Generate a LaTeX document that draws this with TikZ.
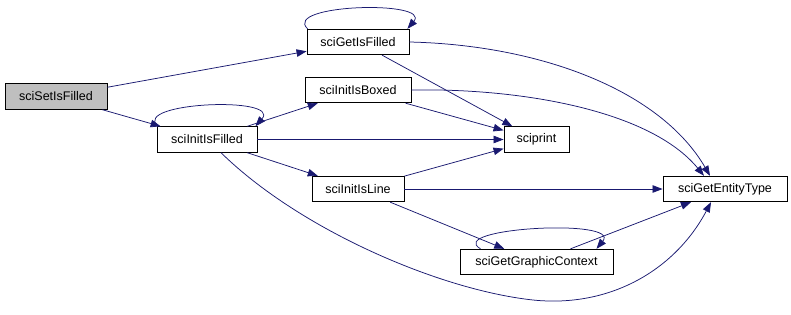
\documentclass[tikz,border=0pt]{standalone}
\usepackage{fontspec}
\setmainfont{Liberation Sans}
\usepackage{xcolor}
\usepackage{tikz}
\usetikzlibrary{arrows.meta, positioning, calc}
\definecolor{edgeblue}{HTML}{191970}
\begin{document}
\begin{tikzpicture}[x=1pt, y=-1pt,
		fn/.style={draw=black, line width=0.9pt, fill=white, inner sep=0pt, minimum height=25.5pt, font=\fontsize{12.5}{15}\selectfont},
		call/.style={draw=edgeblue, line width=0.75pt, -{Triangle[length=10pt, width=7.5pt]}}]
	\useasboundingbox (0,0) rectangle (791,314);
	\node[fn, fill=black!25, minimum width=102pt] (setf) at (56,96.5) {sciSetIsFilled};
	\node[fn, minimum width=102pt] (getf) at (358,42) {sciGetIsFilled};
	\node[fn, minimum width=106pt] (boxed) at (358,90) {sciInitIsBoxed};
	\node[fn, minimum width=100pt] (initf) at (207,139.5) {sciInitIsFilled};
	\node[fn, minimum width=65pt] (print) at (536.5,139.5) {sciprint};
	\node[fn, minimum width=92pt] (line) at (358,189) {sciInitIsLine};
	\node[fn, minimum width=124pt] (ent) at (725,189) {sciGetEntityType};
	\node[fn, minimum width=153pt] (gc) at (536.5,262) {sciGetGraphicContext};
	\draw[call] (setf) -- (getf);
	\draw[call] (setf) -- (initf);
	\draw[call] ([xshift=1pt]getf.north west) .. controls (282,4) and (432,0) .. ([xshift=-2pt]getf.north east);
	\draw[call] (getf) -- (print);
	\draw[call] (getf.east) .. controls (540,45) and (660,90) .. ([xshift=-15pt]ent.north);
	\draw[call] ([xshift=1pt]initf.north west) .. controls (132,102) and (282,96) .. ([xshift=-2pt]initf.north east);
	\draw[call] (initf) -- (boxed);
	\draw[call] (initf) -- (print);
	\draw[call] (initf) -- (line);
	\draw[call] ([xshift=14pt]initf.south) .. controls (300,230) and (440,290) .. (533,300) .. controls (610,308) and (675,270) .. ([xshift=-14pt]ent.south);
	\draw[call] (boxed) -- (print);
	\draw[call] (boxed.east) .. controls (520,88) and (650,110) .. ([xshift=-21pt]ent.north);
	\draw[call] (line) -- (print);
	\draw[call] (line) -- (ent);
	\draw[call] (line) -- (gc);
	\draw[call] ([xshift=-56pt]gc.north) .. controls (445,228) and (622,218) .. ([xshift=60pt]gc.north);
	\draw[call] (gc) -- (ent);
\end{tikzpicture}
\end{document}
